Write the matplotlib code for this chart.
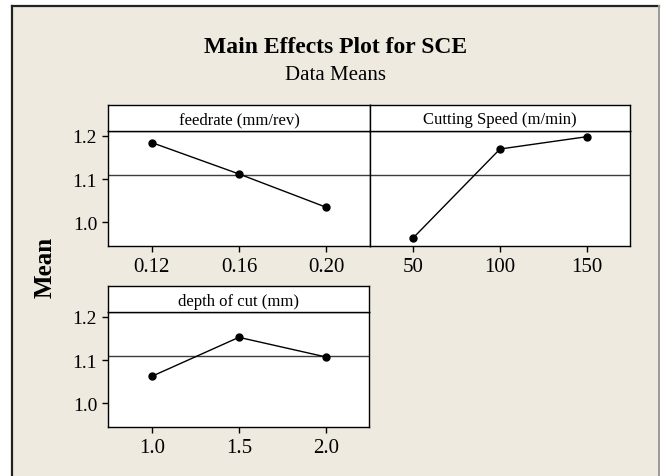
import matplotlib as mpl
mpl.use('Agg')
import matplotlib.pyplot as plt
import numpy as np
from matplotlib.patches import Rectangle
from matplotlib.lines import Line2D

# factor levels and response means
feed_levels = ['0.12', '0.16', '0.20']
feed_means = [1.184, 1.1115, 1.0346]
speed_levels = ['50', '100', '150']
speed_means = [0.9644, 1.1693, 1.1977]
depth_levels = ['1.0', '1.5', '2.0']
depth_means = [1.0624, 1.1524, 1.1070]
panel_titles = ['feedrate (mm/rev)', 'Cutting Speed (m/min)', 'depth of cut (mm)']
y_ticks = [1.0, 1.1, 1.2]

W, H = 661, 477
BG = '#EEEAE0'
plt.rcParams['font.family'] = ['Liberation Serif', 'DejaVu Serif']

fig = plt.figure(figsize=(W / 100, H / 100), dpi=100, facecolor='white')


def px(x0, y0, x1, y1):
  # pixel box (top-left origin) -> figure fraction rect
  return [x0 / W, 1 - y1 / H, (x1 - x0) / W, (y1 - y0) / H]


# outer frame, kept behind the axes
fig.patches.append(Rectangle((12 / W, 0), (659 - 12) / W, 1 - 7 / H, transform=fig.transFigure,
                             facecolor=BG, edgecolor='none', zorder=-10))
fig.lines.append(Line2D([12 / W, 12 / W], [0, 1 - 7 / H], transform=fig.transFigure, color='#222222', lw=1.6, zorder=-5))
fig.lines.append(Line2D([12 / W, 659 / W], [1 - 7 / H, 1 - 7 / H], transform=fig.transFigure, color='#222222', lw=1.6, zorder=-5))
fig.lines.append(Line2D([659 / W, 659 / W], [0, 1 - 7 / H], transform=fig.transFigure, color='#9a9a9a', lw=1.4, zorder=-5))

fig.text(335.5 / W, 1 - 47.5 / H, 'Main Effects Plot for SCE', ha='center', va='center',
         fontsize=17, fontweight='bold')
fig.text(335.5 / W, 1 - 76 / H, 'Data Means', ha='center', va='center', fontsize=15)
fig.text(45 / W, 1 - 267 / H, 'Mean', ha='center', va='center', rotation=90,
         fontsize=18, fontweight='bold')

grand_mean = np.mean(feed_means + speed_means + depth_means)

panels = [
  (feed_levels, feed_means, (108.3, 106, 370, 132.3, 246.7), True),
  (speed_levels, speed_means, (370, 106, 630, 132.3, 246.7), False),
  (depth_levels, depth_means, (108.3, 287.3, 369.5, 313.3, 427.7), True),
]

for (levels, means, box, show_y), title in zip(panels, panel_titles):
  x0, yh, x1, yt, yb = box
  ax = fig.add_axes(px(x0, yt, x1, yb))
  ax.set_facecolor('white')
  x = np.arange(len(levels))
  ax.axhline(grand_mean, color='#3c3c3c', lw=1.0, zorder=1)
  ax.plot(x, means, color='black', lw=1.0, marker='o', ms=5, zorder=3)
  ax.set_xlim(-0.5, 2.5)
  ax.set_ylim(0.946, 1.2102)
  ax.set_xticks(x)
  ax.set_xticklabels(levels, fontsize=15)
  ax.tick_params(axis='x', direction='out', length=4, width=1, pad=4)
  if show_y:
    ax.set_yticks(y_ticks)
    ax.set_yticklabels(['%.1f' % v for v in y_ticks], fontsize=14)
    ax.tick_params(axis='y', direction='out', length=4, width=1, pad=4)
  else:
    ax.set_yticks([])
  for s in ax.spines.values():
    s.set_color('black')
    s.set_linewidth(1.0)

  hx = fig.add_axes(px(x0, yh, x1, yt))
  hx.set_facecolor('white')
  hx.set_xticks([])
  hx.set_yticks([])
  for s in hx.spines.values():
    s.set_color('black')
    s.set_linewidth(1.0)
  hx.text(0.5, 0.45, title, ha='center', va='center', fontsize=12, transform=hx.transAxes)

fig.savefig('out.png', dpi=100, facecolor='white')
plt.close()
